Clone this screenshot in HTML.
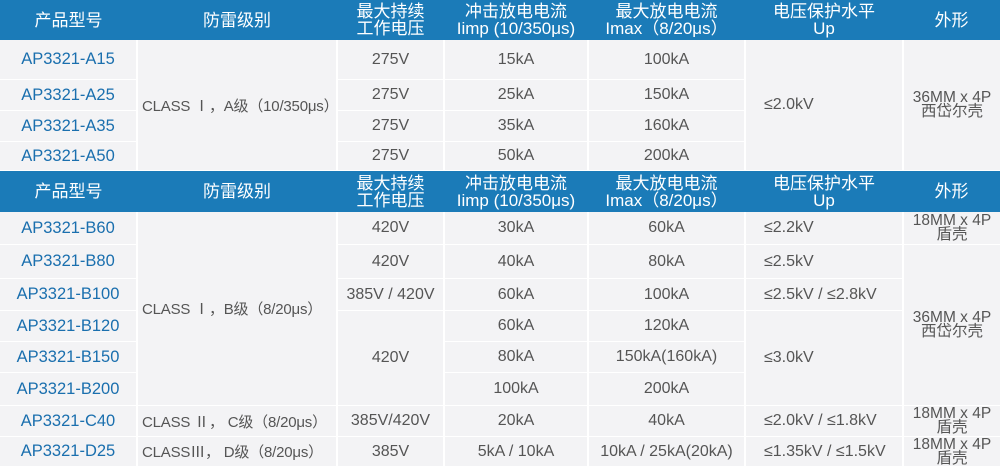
<!DOCTYPE html>
<html><head><meta charset="utf-8"><style>
body{margin:0;width:1000px;height:466px;background:#fff;overflow:hidden;position:relative;font-family:"Liberation Sans","Noto Sans CJK SC",sans-serif;}
.c{position:absolute;background:#f3f3f5;color:#555;font-size:16px;display:flex;align-items:center;justify-content:center;text-align:center;box-sizing:border-box;white-space:nowrap;overflow:visible}
.h{background:#1b7bb8;color:#fff;font-size:17px;line-height:17px}
.m{color:#1a6fae;font-size:16.5px}
.l{justify-content:flex-start;padding-left:4px;font-size:15px;letter-spacing:-0.2px}
.l6{justify-content:flex-start;padding-left:18px}
.t{line-height:14px;font-size:15.5px}
</style></head><body>
<script>
const X=[0,137,337,444,588,745,903,1000];
function cell(c1,c2,y1,y2,txt,cls){
 const d=document.createElement('div');d.className='c '+(cls||'');
 const x=X[c1]+(c1?1:0),w=X[c2]-X[c1]-(c1?1:0)-(c2<7?1:0);
 d.style.left=x+'px';d.style.top=(y1+1)+'px';d.style.width=w+'px';d.style.height=(y2-y1-1)+'px';
 d.innerHTML=txt;document.body.appendChild(d);
}
function header(y1,y2){
 const d=document.createElement('div');d.className='c h';d.style.left='0';d.style.top=y1+'px';d.style.width='1000px';d.style.height=(y2-y1)+'px';document.body.appendChild(d);
 const hs=['产品型号','防雷级别','最大持续<br>工作电压','冲击放电电流<br>Iimp (10/350μs)','最大放电电流<br>Imax（8/20μs）','电压保护水平<br>Up','外形'];
 hs.forEach((t,i)=>{const e=document.createElement('div');e.className='c h';e.style.left=X[i]+'px';e.style.width=(X[i+1]-X[i])+'px';e.style.top=y1+'px';e.style.height=(y2-y1)+'px';e.style.background='transparent';e.innerHTML=t;document.body.appendChild(e);});
}
header(0,40);
const A=[39,79,110,141,170];
['AP3321-A15','AP3321-A25','AP3321-A35','AP3321-A50'].forEach((t,i)=>cell(0,1,A[i],A[i+1],t,'m'));
cell(1,2,A[0],A[4],'CLASS Ⅰ，A级（10/350μs）','l');
['15kA','25kA','35kA','50kA'].forEach((t,i)=>{cell(2,3,A[i],A[i+1],'275V');cell(3,4,A[i],A[i+1],t);});
['100kA','150kA','160kA','200kA'].forEach((t,i)=>cell(4,5,A[i],A[i+1],t));
cell(5,6,A[0],A[4],'≤2.0kV','l6');
cell(6,7,A[0],A[4],'36MM x 4P<br>西岱尔壳','t');
header(171,212);
const B=[211,244,278,310,341,372,405,436,466];
['AP3321-B60','AP3321-B80','AP3321-B100','AP3321-B120','AP3321-B150','AP3321-B200','AP3321-C40','AP3321-D25'].forEach((t,i)=>cell(0,1,B[i],B[i+1],t,'m'));
cell(1,2,B[0],B[6],'CLASS Ⅰ，B级（8/20μs）','l');
cell(1,2,B[6],B[7],'CLASS Ⅱ， C级（8/20μs）','l');
cell(1,2,B[7],B[8],'CLASSⅢ， D级（8/20μs）','l');
cell(2,3,B[0],B[1],'420V');cell(2,3,B[1],B[2],'420V');cell(2,3,B[2],B[3],'385V / 420V');
cell(2,3,B[3],B[6],'420V');cell(2,3,B[6],B[7],'385V/420V');cell(2,3,B[7],B[8],'385V');
['30kA','40kA','60kA','60kA','80kA','100kA','20kA','5kA / 10kA'].forEach((t,i)=>cell(3,4,B[i],B[i+1],t));
['60kA','80kA','100kA','120kA','150kA(160kA)','200kA','40kA','10kA / 25kA(20kA)'].forEach((t,i)=>cell(4,5,B[i],B[i+1],t));
cell(5,6,B[0],B[1],'≤2.2kV','l6');cell(5,6,B[1],B[2],'≤2.5kV','l6');cell(5,6,B[2],B[3],'≤2.5kV / ≤2.8kV','l6');
cell(5,6,B[3],B[6],'≤3.0kV','l6');cell(5,6,B[6],B[7],'≤2.0kV / ≤1.8kV','l6');cell(5,6,B[7],B[8],'≤1.35kV / ≤1.5kV','l6');
cell(6,7,B[0],B[1],'18MM x 4P<br>盾壳','t');
cell(6,7,B[1],B[6],'36MM x 4P<br>西岱尔壳','t');
cell(6,7,B[6],B[7],'18MM x 4P<br>盾壳','t');
cell(6,7,B[7],B[8],'18MM x 4P<br>盾壳','t');
</script>
</body></html>
